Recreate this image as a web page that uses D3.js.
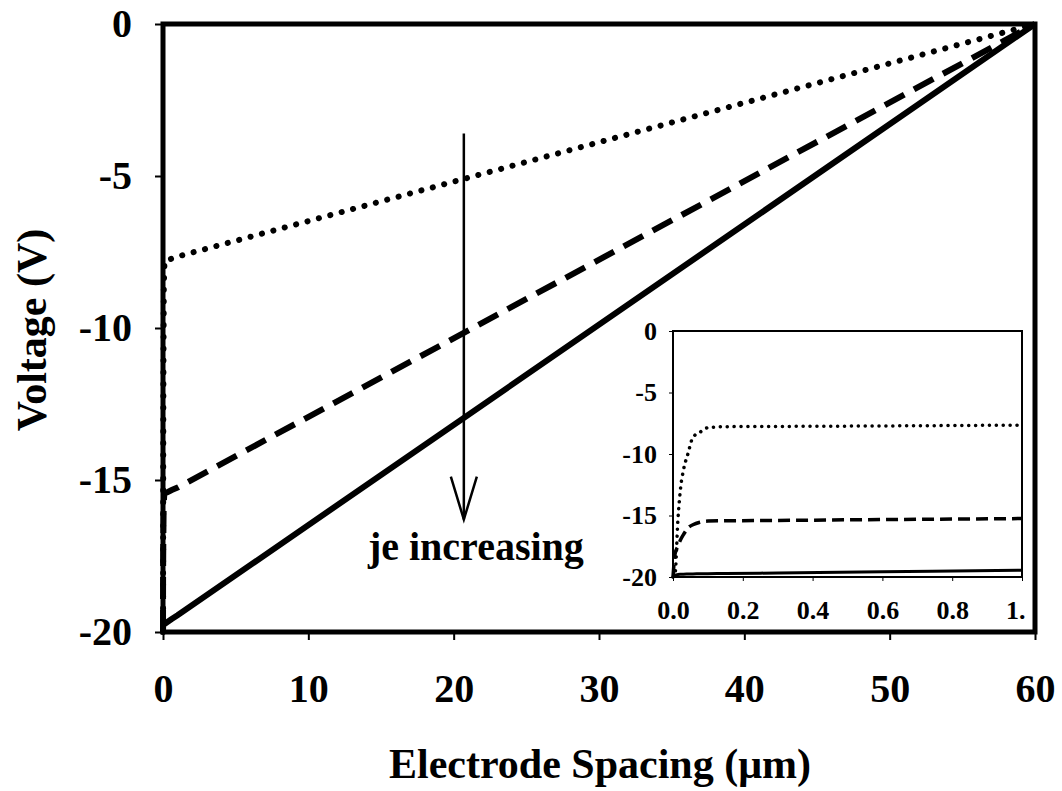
<!DOCTYPE html>
<html>
<head>
<meta charset="utf-8">
<script src="https://cdn.jsdelivr.net/npm/d3@7"></script>
<style>
  body { margin: 0; background: #fff; }
  text { font-family: "Liberation Serif", "Times New Roman", serif; font-weight: bold; fill: #000; }
</style>
</head>
<body>
<div id="chart"></div>
<script>
// tick values
const spacingTicks = [0, 10, 20, 30, 40, 50, 60];
const voltageTicks = [0, -5, -10, -15, -20];
const insetXTicks = [0, 0.2, 0.4, 0.6, 0.8, 1.0];

// sheath region near the cathode (um)
const sheathX = [0, 0.006, 0.014, 0.022, 0.03, 0.043, 0.057, 0.077, 0.1, 0.15, 0.3, 0.6, 1.0];
const lowJ = [-20, -19.7, -15.4, -12.7, -11.3, -9.96, -8.65, -8.24, -7.86, -7.78, -7.76, -7.72, -7.65];
const midJ = [-20, -18.1, -17.5, -16.95, -16.55, -16.0, -15.75, -15.55, -15.45, -15.43, -15.4, -15.33, -15.25];
const highJ = [-20, -19.85, -19.8, -19.78, -19.77, -19.76, -19.75, -19.74, -19.73, -19.72, -19.67, -19.57, -19.45];

// anode end of the gap
const gapEnd = 60;
const anodeV = 0;

// arrow annotation
const arrowAt = 20.7, arrowFrom = -3.6, arrowTo = -16.3;

const width = 1062, height = 791;
const svg = d3.select("#chart").append("svg")
  .attr("width", width).attr("height", height);

const x = d3.scaleLinear().domain([0, 60]).range([163, 1035]);
const y = d3.scaleLinear().domain([-20, 0]).range([632, 24]);

const mainSeries = [
  { v: lowJ, w: 6, dash: "0.1 11.7", cap: "round" },
  { v: midJ, w: 6, dash: "22 11", cap: "butt" },
  { v: highJ, w: 6, dash: null, cap: "butt" }
];

function pts(v) {
  const p = sheathX.map((s, i) => [s, v[i]]);
  p.push([gapEnd, anodeV]);
  return p;
}

const line = d3.line().x(d => x(d[0])).y(d => y(d[1]));

svg.append("g").selectAll("path")
  .data(mainSeries)
  .enter()
  .append("path")
  .attr("d", d => line(pts(d.v)))
  .attr("fill", "none")
  .attr("stroke", "#000")
  .attr("stroke-width", d => d.w)
  .attr("stroke-linecap", d => d.cap)
  .attr("stroke-dasharray", d => d.dash);

// plain hyphen for negatives, like the original
const plain = d => String(d);

// axes
const yAxis = d3.axisLeft(y).tickValues(voltageTicks).tickSize(8).tickPadding(23).tickFormat(plain);
const gy = svg.append("g").attr("transform", "translate(163,0)").call(yAxis);
gy.select(".domain").remove();
gy.selectAll("line").attr("stroke-width", 2);
gy.selectAll("text").style("font-size", "40px");

const xAxis = d3.axisBottom(x).tickValues(spacingTicks).tickSize(8).tickPadding(34).tickFormat(plain);
const gx = svg.append("g").attr("transform", "translate(0,632)").call(xAxis);
gx.select(".domain").remove();
gx.selectAll("line").attr("stroke-width", 2);
gx.selectAll("text").style("font-size", "40px");

// frame
svg.append("rect")
  .attr("x", x(0)).attr("y", y(0))
  .attr("width", x(60) - x(0)).attr("height", y(-20) - y(0))
  .attr("fill", "none").attr("stroke", "#000").attr("stroke-width", 5);

// titles
svg.append("text")
  .attr("x", 600).attr("y", 778)
  .attr("text-anchor", "middle")
  .style("font-size", "42px")
  .text("Electrode Spacing (\u03bcm)");

svg.append("text")
  .attr("transform", "translate(46,330) rotate(-90)")
  .attr("text-anchor", "middle")
  .style("font-size", "42px")
  .text("Voltage (V)");

// arrow
const ax = x(arrowAt), ay0 = y(arrowFrom), ay1 = y(arrowTo);
svg.append("line")
  .attr("x1", ax).attr("x2", ax).attr("y1", ay0).attr("y2", ay1)
  .attr("stroke", "#000").attr("stroke-width", 2.5);
svg.append("path")
  .attr("d", `M${ax - 13},${ay1 - 43}L${ax},${ay1}L${ax + 13},${ay1 - 43}`)
  .attr("fill", "none").attr("stroke", "#000").attr("stroke-width", 2.5);
svg.append("text")
  .attr("x", ax + 120).attr("y", ay1 + 40)
  .attr("text-anchor", "end")
  .style("font-size", "40px")
  .text("je increasing");

// inset
const ix = d3.scaleLinear().domain([0, 1]).range([673, 1022]);
const iy = d3.scaleLinear().domain([-20, 0]).range([577, 331]);

const inset = svg.append("g");
inset.append("rect")
  .attr("x", ix(0)).attr("y", iy(0))
  .attr("width", ix(1) - ix(0)).attr("height", iy(-20) - iy(0))
  .attr("fill", "#fff");

const insetSeries = [
  { v: lowJ, w: 3.5, dash: "0.1 6.8", cap: "round" },
  { v: midJ, w: 3.5, dash: "12 6", cap: "butt" },
  { v: highJ, w: 3, dash: null, cap: "butt" }
];
const iline = d3.line().curve(d3.curveMonotoneX).x(d => ix(d[0])).y(d => iy(d[1]));

inset.selectAll(".iseries")
  .data(insetSeries)
  .enter()
  .append("path")
  .attr("class", "iseries")
  .attr("d", d => iline(sheathX.map((s, i) => [s, d.v[i]])))
  .attr("fill", "none")
  .attr("stroke", "#000")
  .attr("stroke-width", d => d.w)
  .attr("stroke-linecap", d => d.cap)
  .attr("stroke-dasharray", d => d.dash);

inset.append("rect")
  .attr("x", ix(0)).attr("y", iy(0))
  .attr("width", ix(1) - ix(0)).attr("height", iy(-20) - iy(0))
  .attr("fill", "none").attr("stroke", "#000").attr("stroke-width", 2);

const iyAxis = d3.axisLeft(iy).tickValues(voltageTicks).tickSize(4).tickPadding(12).tickFormat(plain);
const giy = inset.append("g").attr("transform", `translate(${ix(0)},0)`).call(iyAxis);
giy.select(".domain").remove();
giy.selectAll("text").style("font-size", "26px");

const ixAxis = d3.axisBottom(ix).tickValues(insetXTicks).tickSize(4).tickPadding(20)
  .tickFormat(d => d === 1 ? "1." : d3.format(".1f")(d));
const gix = inset.append("g").attr("transform", `translate(0,${iy(-20)})`).call(ixAxis);
gix.select(".domain").remove();
gix.selectAll("text").style("font-size", "26px");
gix.selectAll(".tick").filter(d => d === 1).select("text")
  .attr("text-anchor", "end").attr("dx", 3);
</script>
</body>
</html>
